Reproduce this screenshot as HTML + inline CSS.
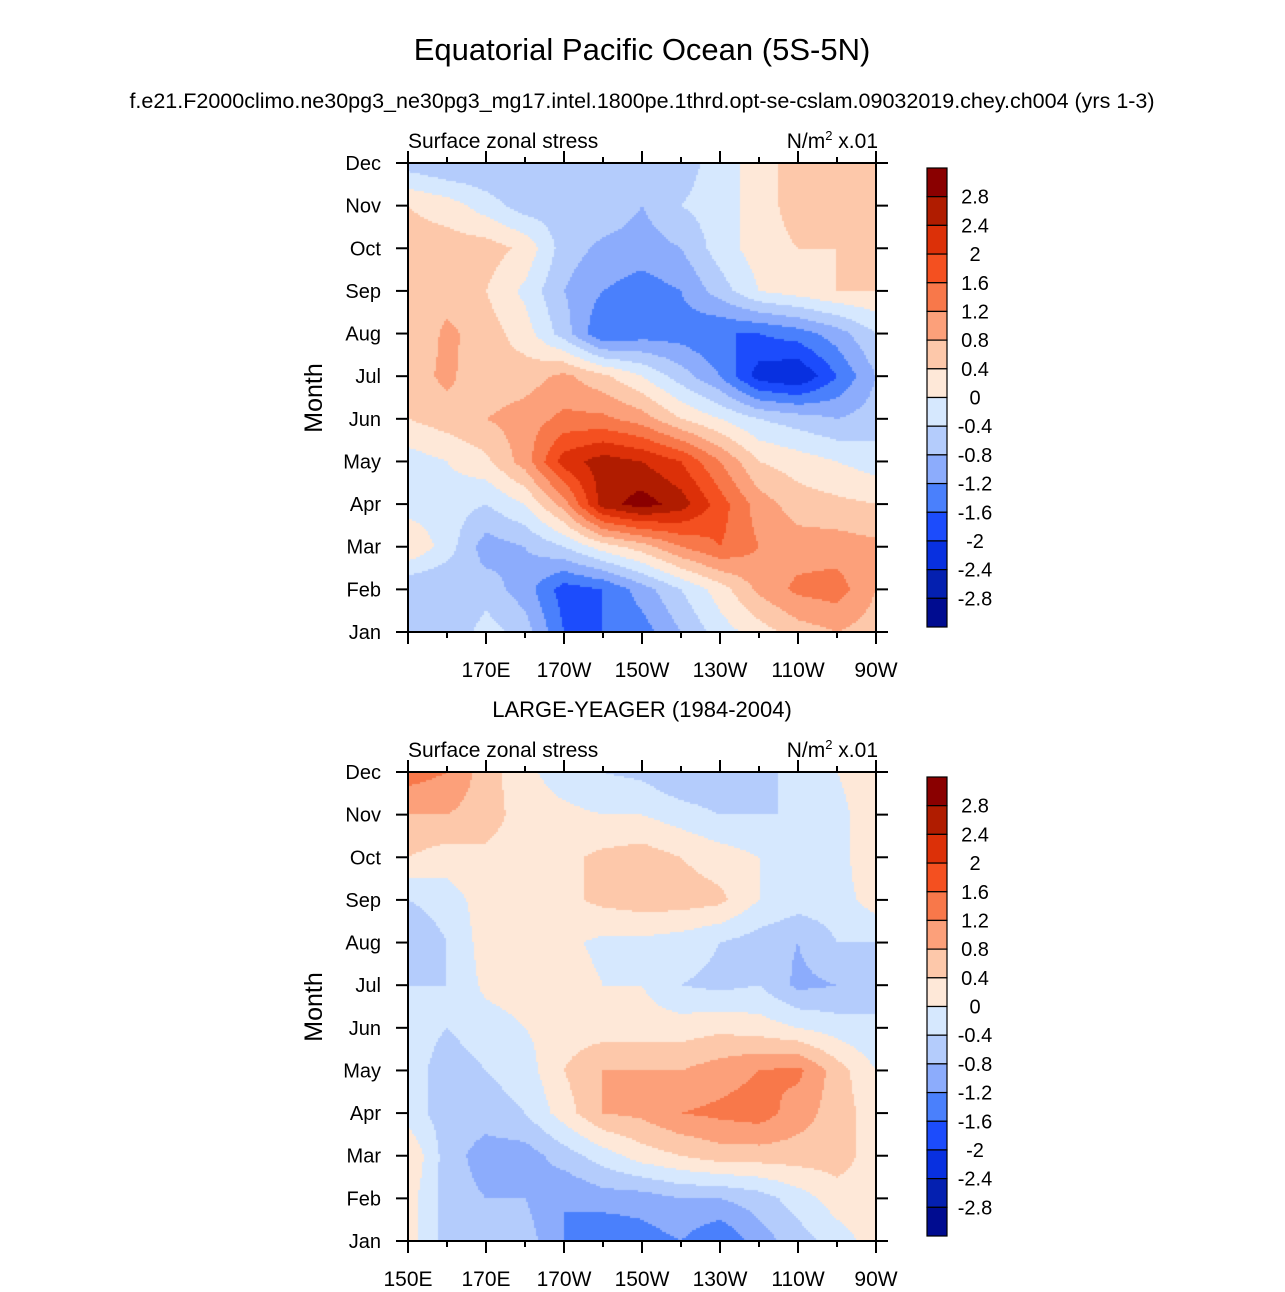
<!DOCTYPE html>
<html><head><meta charset="utf-8">
<style>
body{margin:0;background:#fff;}
#wrap{position:relative;width:1285px;height:1292px;overflow:hidden;font-family:"Liberation Sans",Arial,sans-serif;}
canvas{position:absolute;}
svg{position:absolute;left:0;top:0;}
</style></head>
<body>
<div id="wrap">
<canvas id="c1" width="468" height="469" style="left:408px;top:163px"></canvas>
<canvas id="c2" width="468" height="469" style="left:408px;top:772px"></canvas>
<svg id="s" width="1285" height="1292"></svg>
</div>
<script>
const months=["Jan","Feb","Mar","Apr","May","Jun","Jul","Aug","Sep","Oct","Nov","Dec"];
const lons=[150,160,170,180,190,200,210,220,230,240,250,260,270];
const levels=[-2.8,-2.4,-2,-1.6,-1.2,-0.8,-0.4,0,0.4,0.8,1.2,1.6,2,2.4,2.8];
const levelLabels=["2.8","2.4","2","1.6","1.2","0.8","0.4","0","-0.4","-0.8","-1.2","-1.6","-2","-2.4","-2.8"];
const colors=["#000c90","#0420b0","#0830e0","#1c4cfc","#4a80fc","#8cacfc","#b4ccfc","#d6e8fe","#fee8d8","#fdc8aa","#fca07a","#f8784a","#f45020","#dc3008","#b01c00","#8a0000"];
const lonTicks=[150,170,190,210,230,250,270];
const lonTickLabels=["150E","170E","170W","150W","130W","110W","90W"];
const topData=[
[-0.6,-0.8,-0.2,-0.6,-1.6,-1.6,-1.4,-0.8,-0.2,0.2,0.6,0.8,0.6],
[-0.8,-0.8,-0.6,-1.0,-1.8,-1.6,-1.0,-0.4,0.2,0.9,1.3,1.4,0.8],
[0.4,-0.2,-1.0,-0.8,-0.4,0.2,0.6,1.2,1.6,1.2,1.0,1.0,0.9],
[-0.2,-0.2,-0.4,0.0,1.0,2.6,3.0,2.6,1.8,1.0,0.6,0.5,0.4],
[-0.2,0.0,0.3,1.0,2.2,2.6,2.4,2.0,1.2,0.4,0.2,0.0,-0.2],
[0.4,0.6,0.8,1.0,1.3,1.3,1.0,0.4,0.0,-0.4,-0.6,-0.8,-0.6],
[0.6,0.9,0.5,0.6,0.9,0.5,0.0,-0.6,-1.2,-2.2,-2.4,-1.6,-0.8],
[0.4,0.9,0.6,0.2,-0.6,-1.6,-1.4,-1.4,-1.6,-1.6,-1.4,-1.0,-0.4],
[0.6,0.6,0.4,-0.1,-0.8,-1.2,-1.4,-1.2,-0.6,0.0,0.2,0.4,0.4],
[0.6,0.6,0.6,0.3,-0.6,-0.9,-1.0,-0.8,-0.2,0.2,0.4,0.4,0.4],
[0.4,0.2,-0.2,-0.6,-0.6,-0.5,-0.8,-0.4,-0.2,0.2,0.6,0.6,0.6],
[-0.6,-0.8,-0.8,-0.8,-0.5,-0.4,-0.5,-0.6,-0.2,0.2,0.6,0.6,0.6]];
const botData=[
[0.2,-0.6,-0.4,-0.6,-1.2,-1.6,-1.4,-1.2,-1.6,-1.0,-0.6,-0.2,0.2],
[0.2,-0.6,-0.8,-0.8,-1.2,-1.0,-1.0,-0.8,-0.8,-0.6,-0.2,0.2,0.2],
[0.4,-0.6,-1.0,-1.0,-0.6,-0.2,0.2,0.4,0.6,0.6,0.6,0.6,0.2],
[-0.2,-0.6,-0.6,-0.4,0.2,0.8,0.9,1.2,1.3,1.4,1.0,0.6,0.2],
[-0.2,-0.6,-0.4,-0.2,0.4,0.8,0.8,0.8,1.0,1.2,1.3,0.6,0.0],
[-0.2,-0.4,-0.2,0.0,0.2,0.2,0.2,0.2,0.3,0.2,0.0,-0.2,-0.4],
[-0.4,-0.4,0.1,0.2,0.2,0.0,0.0,-0.4,-0.5,-0.4,-0.9,-0.8,-0.4],
[-0.8,-0.4,0.2,0.2,0.1,-0.1,-0.1,-0.2,-0.4,-0.6,-0.8,-0.4,-0.4],
[-0.4,-0.2,0.2,0.2,0.3,0.5,0.6,0.6,0.5,0.0,-0.2,-0.2,0.2],
[0.4,0.2,0.3,0.2,0.3,0.5,0.6,0.4,0.2,0.0,-0.2,-0.2,0.4],
[0.8,0.8,0.6,0.2,0.1,0.0,0.0,-0.2,-0.4,-0.4,-0.4,-0.1,0.2],
[1.4,1.2,0.6,0.1,-0.2,-0.4,-0.5,-0.8,-0.8,-0.6,-0.2,0.0,0.2]];

const X0=408,X1=876,LON0=150,LON1=270;
function xs(lon){return X0+(lon-LON0)/(LON1-LON0)*(X1-X0);}
function ys(m,top){return top+469-(m/11)*469;}
function colorFor(v){let i=0;while(i<levels.length&&v>=levels[i])i++;return colors[i];}
function sample(d,lon,m){
  let fi=(lon-lons[0])/10, fj=m;
  fi=Math.max(0,Math.min(lons.length-1.0001,fi));fj=Math.max(0,Math.min(10.9999,fj));
  const i=Math.floor(fi),j=Math.floor(fj),a=fi-i,b=fj-j;
  return (d[j][i]*(1-a)+d[j][i+1]*a)*(1-b)+(d[j+1][i]*(1-a)+d[j+1][i+1]*a)*b;
}
function fill(id,d){
  const ctx=document.getElementById(id).getContext('2d');
  const st=2;
  for(let py=0;py<469;py+=st){for(let px=0;px<468;px+=st){
    const lon=LON0+(px+1)/468*(LON1-LON0);
    const m=(469-(py+1))/469*11;
    ctx.fillStyle=colorFor(sample(d,lon,m));
    ctx.fillRect(px,py,st,st);}}
}
fill('c1',topData);fill('c2',botData);

const S=document.getElementById('s');const NS='http://www.w3.org/2000/svg';
function el(t,a,txt){const e=document.createElementNS(NS,t);for(const k in a)e.setAttribute(k,a[k]);if(txt!==undefined)e.textContent=txt;S.appendChild(e);return e;}
function line(x1,y1,x2,y2,w){return el('line',{x1,y1,x2,y2,stroke:'#000','stroke-width':w||2});}
let t;
t=el('text',{x:642,y:60,'text-anchor':'middle','font-size':31},'Equatorial Pacific Ocean (5S-5N)');

t=el('text',{x:642,y:108,'text-anchor':'middle','font-size':21.5},'f.e21.F2000climo.ne30pg3_ne30pg3_mg17.intel.1800pe.1thrd.opt-se-cslam.09032019.chey.ch004 (yrs 1-3)');

t=el('text',{x:642,y:717,'text-anchor':'middle','font-size':22},'LARGE-YEAGER (1984-2004)');


function panel(top,showFirst){
  const bot=top+469;
  t=el('text',{x:408,y:top-15,'font-size':21},'Surface zonal stress');
  
  t=el('text',{x:878,y:top-15,'font-size':21,'text-anchor':'end'});
  t.innerHTML='N/m<tspan dy="-8" font-size="13">2</tspan><tspan dy="8"> x.01</tspan>';
  
  t=el('text',{x:322,y:top+235,'font-size':25,'text-anchor':'middle',transform:`rotate(-90 322 ${top+235})`},'Month');
  
  el('rect',{x:X0,y:top,width:X1-X0,height:469,fill:'none',stroke:'#000','stroke-width':2});
  for(let m=0;m<12;m++){const y=ys(m,top);
    line(X0-12,y,X0,y);line(X1,y,X1+12,y);
    t=el('text',{x:381,y:y+7,'font-size':20,'text-anchor':'end'},months[m]);
    }
  for(let lon=150;lon<=270;lon+=10){const x=xs(lon);const maj=lonTicks.includes(lon);const L=maj?12:6;
    line(x,bot,x,bot+L);line(x,top-L,x,top);}
  lonTicks.forEach((lon,i)=>{if(i===0&&!showFirst)return;
    t=el('text',{x:xs(lon),y:bot+45,'font-size':21,'text-anchor':'middle'},lonTickLabels[i]);
    });
  const cy=top+5,bh=459/16;
  for(let k=0;k<16;k++){
    const r=el('rect',{x:927,y:cy+k*bh,width:20,height:bh,fill:colors[15-k],stroke:'#000','stroke-width':1.2});
    }
  levelLabels.forEach((lab,k)=>{
    t=el('text',{x:975,y:cy+(k+1)*bh+7,'font-size':20,'text-anchor':'middle'},lab);
    });
}
panel(163,false);panel(772,true);
</script>
</body></html>
